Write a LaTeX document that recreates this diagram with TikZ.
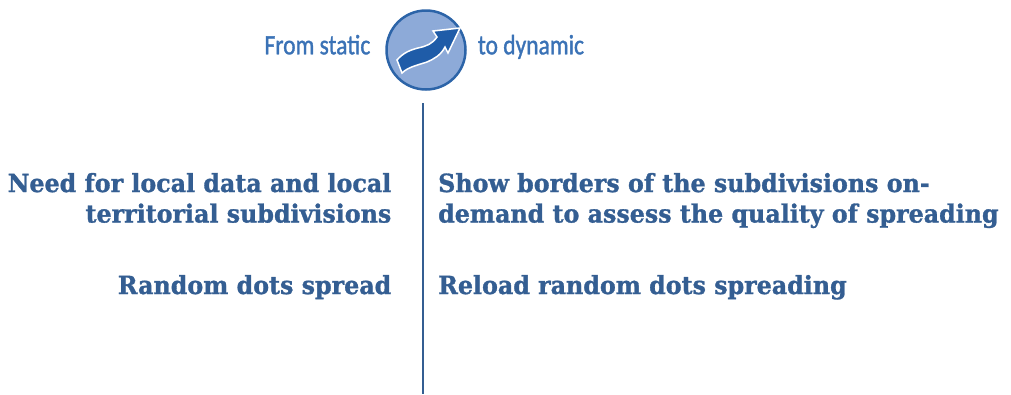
\documentclass[tikz,border=0pt]{standalone}
\usepackage{fontspec}
\usepackage{graphicx}
\newfontfamily\logofont{Carlito}[FakeBold=1.4]
\newfontfamily\bodyfont{DejaVu Serif}[FakeStretch=0.95, BoldFeatures={FakeBold=1.2}]
\definecolor{txtblue}{HTML}{345E92}
\definecolor{logotxt}{HTML}{3A72B6}
\definecolor{circfill}{HTML}{8DAAD8}
\definecolor{circedge}{HTML}{2C64A8}
\definecolor{arrowblue}{HTML}{1F5CA8}
\tikzset{
  boldtext/.style={inner sep=0pt, text=txtblue, font=\bodyfont\bfseries\fontsize{25}{30.5}\selectfont},
  logotext/.style={inner sep=0pt, text=logotxt, font=\logofont\fontsize{28}{28}\selectfont},
  divider/.style={draw=txtblue, line width=2pt}
}
\begin{document}
\begin{tikzpicture}[x=1pt,y=-1pt]
\useasboundingbox (0,0) rectangle (1011,394);
% logo
\node[logotext, anchor=base east] (from) at (370.5,54.3) {\scalebox{0.84}[1]{From static}};
\node[logotext, anchor=base west] (to) at (477.7,54.3) {\scalebox{0.84}[1]{to dynamic}};
\node[circle, minimum size=79pt, inner sep=0pt, fill=circfill, draw=circedge, line width=2.5pt] (logo) at (426,50) {};
\fill[arrowblue, draw=white, line width=1.5pt, line join=miter]
  (397,60) .. controls (403,53) and (410,50) .. (418,48)
  .. controls (427,46) and (432,44) .. (437,37)
  -- (433,31) -- (460,28) -- (448,53) -- (445,47)
  .. controls (441,55) and (434,59) .. (427,62)
  .. controls (418,65) and (408,67) .. (402,73) -- cycle;
% divider
\coordinate (top) at (422.7,103);
\coordinate (bottom) at (422.7,394);
\draw[divider] (top) -- (bottom);
% texts
\node[boldtext, anchor=base east, align=right] (need) at (391.5,222.5) {Need for local data and local\\territorial subdivisions};
\node[boldtext, anchor=base east] (random) at (391.5,294) {Random dots spread};
\node[boldtext, anchor=base west, align=left] (show) at (438,222.5) {Show borders of the subdivisions on-\\demand to assess the quality of spreading};
\node[boldtext, anchor=base west] (reload) at (438,294) {Reload random dots spreading};
\end{tikzpicture}
\end{document}
